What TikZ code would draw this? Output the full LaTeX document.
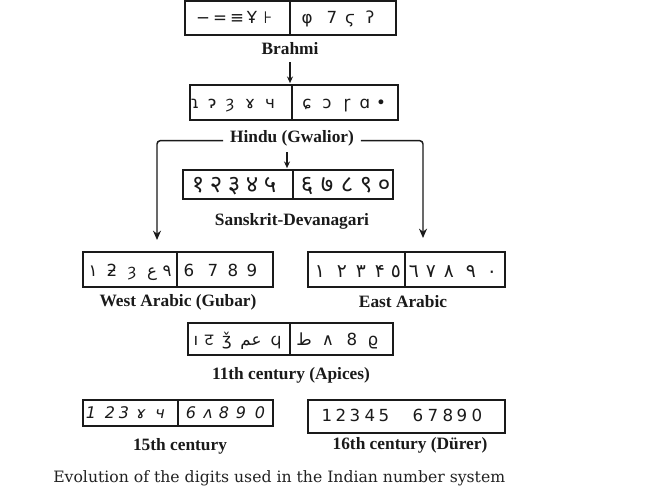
\documentclass[tikz,border=0pt]{standalone}
\usepackage{fontspec}
\setmainfont{Liberation Serif}
\newfontfamily\glf{DejaVu Sans}
\newfontfamily\devf[Script=Devanagari]{Noto Sans}
\newfontfamily\arf[Script=Arabic]{DejaVu Sans}
\newfontfamily\capfont{DejaVu Serif}
\usetikzlibrary{arrows.meta,fit}
\definecolor{ink}{HTML}{1A1A1A}
\definecolor{captc}{HTML}{222222}
\tikzset{
  digitbox/.style={draw=ink, line width=0.8pt, inner sep=0pt},
  divider/.style={draw=ink, line width=0.8pt},
  lab/.style={font=\fontsize{13}{15}\selectfont\bfseries, text=ink, inner sep=2pt},
  gly/.style={font=\glf\fontsize{12.5}{14}\selectfont, text=ink, anchor=base, inner sep=0pt},
  glyd/.style={font=\devf\fontsize{18}{20}\selectfont, text=ink, anchor=base, inner sep=0pt},
  glya/.style={font=\arf\fontsize{14}{16}\selectfont, text=ink, anchor=base, inner sep=0pt},
  arr/.style={draw=ink, line width=1pt, -{Stealth[length=5pt,width=4.5pt]}},
  side/.style={draw=ink, line width=1.1pt, rounded corners=2.5pt, -{Stealth[length=7pt,width=6pt]}},
  capt/.style={font=\capfont\fontsize{11.75}{13}\selectfont, text=captc, inner sep=0pt, anchor=west}
}
\begin{document}
\begin{tikzpicture}[x=0.75pt,y=-0.75pt]
\fill[white] (0,0) rectangle (645,502);
\useasboundingbox (0,0) rectangle (645,502);

% ---------- Brahmi
\node[digitbox, fit={(185,1) (396,35)}] (brbox) {};
\coordinate (brd) at (290,0);
\draw[divider] (brbox.north -| brd) -- (brbox.south -| brd);
\foreach \x/\g [count=\i] in {203/−,220/=,237/≡,252/Ұ,268/⊦,307/φ,332/7,350/ϛ,370/ʔ}
  \node[gly] (br\i) at (\x,24) {\g};
\node[lab] (brl) at (290,49) {Brahmi};

% ---------- Hindu (Gwalior)
\node[digitbox, fit={(190,85) (398,120)}] (gwbox) {};
\coordinate (gwd) at (292,0);
\draw[divider] (gwbox.north -| gwd) -- (gwbox.south -| gwd);
\foreach \x/\g [count=\i] in {195/ɿ,212/ɂ,230/ȝ,250/ɤ,270/ч,307/ɕ,327/ɔ,347/ɼ,365/ɑ,381/•}
  \node[gly] (gw\i) at (\x,109) {\g};
\node[lab] (hwl) at (292,138) {Hindu (Gwalior)};

% ---------- Sanskrit-Devanagari
\node[digitbox, fit={(183,170) (393,199)}] (dvbox) {};
\coordinate (dvd) at (293,0);
\draw[divider] (dvbox.north -| dvd) -- (dvbox.south -| dvd);
\foreach \x/\g [count=\i] in {198/१,216/२,234/३,252/४,270/५,307/६,327/७,347/८,366/९,384/०}
  \node[glyd] (dv\i) at (\x,193) {\g};
\node[lab] (dvl) at (292,221) {Sanskrit-Devanagari};

% ---------- West Arabic (Gubar)
\node[digitbox, fit={(83,252) (273,287)}] (wabox) {};
\coordinate (wad) at (177,0);
\draw[divider] (wabox.north -| wad) -- (wabox.south -| wad);
\foreach \x/\g [count=\i] in {93/{\arf ١},112/ƻ,132/ȝ,152/{\arf ع},167/{\arf ٩},189/6,213/7,233/8,252/9}
  \node[gly] (wa\i) at (\x,276) {\g};
\node[lab] (wal) at (178,302) {West Arabic (Gubar)};

% ---------- East Arabic
\node[digitbox, fit={(308,252) (505,287)}] (eabox) {};
\coordinate (ead) at (405,0);
\draw[divider] (eabox.north -| ead) -- (eabox.south -| ead);
\foreach \x/\g [count=\i] in {320/١,342/٢,361/٣,380/۴,396/٥,414/٦,431/٧,449/٨,471/٩,492/٠}
  \node[glya] (ea\i) at (\x,277) {\g};
\node[lab] (eal) at (403,302) {East Arabic};

% ---------- 11th century (Apices)
\node[digitbox, fit={(188,323) (393,355)}] (apbox) {};
\coordinate (apd) at (290,0);
\draw[divider] (apbox.north -| apd) -- (apbox.south -| apd);
\foreach \x/\g [count=\i] in {196/ı,209/{\devf ट},227/ǯ,251/{\arf عم},276/ϥ,304/{\arf ط},328/∧,352/8,373/ϱ}
  \node[gly] (ap\i) at (\x,345) {\g};
\node[lab] (apl) at (291,375) {11th century (Apices)};

% ---------- 15th century
\node[digitbox, fit={(83,400) (273,426)}] (c15box) {};
\coordinate (c15d) at (178,0);
\draw[divider] (c15box.north -| c15d) -- (c15box.south -| c15d);
\foreach \x/\g [count=\i] in {91/1,110/2,124/3,141/ɤ,160/ч,191/6,208/ʌ,224/8,241/9,260/0}
  \node[gly, font=\glf\itshape\fontsize{12}{14}\selectfont] (c15\i) at (\x,418) {\g};
\node[lab] (c15l) at (180,446) {15th century};

% ---------- 16th century (Dürer)
\node[digitbox, fit={(308,400) (505,433)}] (c16box) {};
\foreach \x/\g [count=\i] in {327/1,341/2,355/3,370/4,384/5,418/6,433/7,448/8,462/9,477/0}
  \node[gly] (c16\i) at (\x,421) {\g};
\node[lab] (c16l) at (410,445) {16th century (Dürer)};

% ---------- connectors
\draw[arr, shorten <=3pt, shorten >=1pt] (brl.south) -- (brl.south |- gwbox.north);
\coordinate (hdx) at (287,0);
\draw[arr, shorten <=2.5pt, shorten >=1pt] (hwl.south -| hdx) -- (dvbox.north -| hdx);
\coordinate (lend) at (157,240);
\coordinate (rend) at (423,238);
\draw[side, shorten <=3pt] ([yshift=-2pt]hwl.west) -| (lend);
\draw[side, shorten <=3pt] ([yshift=-2pt]hwl.east) -| (rend);

% ---------- caption
\node[capt] (cap) at (53,478) {Evolution of the digits used in the Indian number system};
\end{tikzpicture}
\end{document}
